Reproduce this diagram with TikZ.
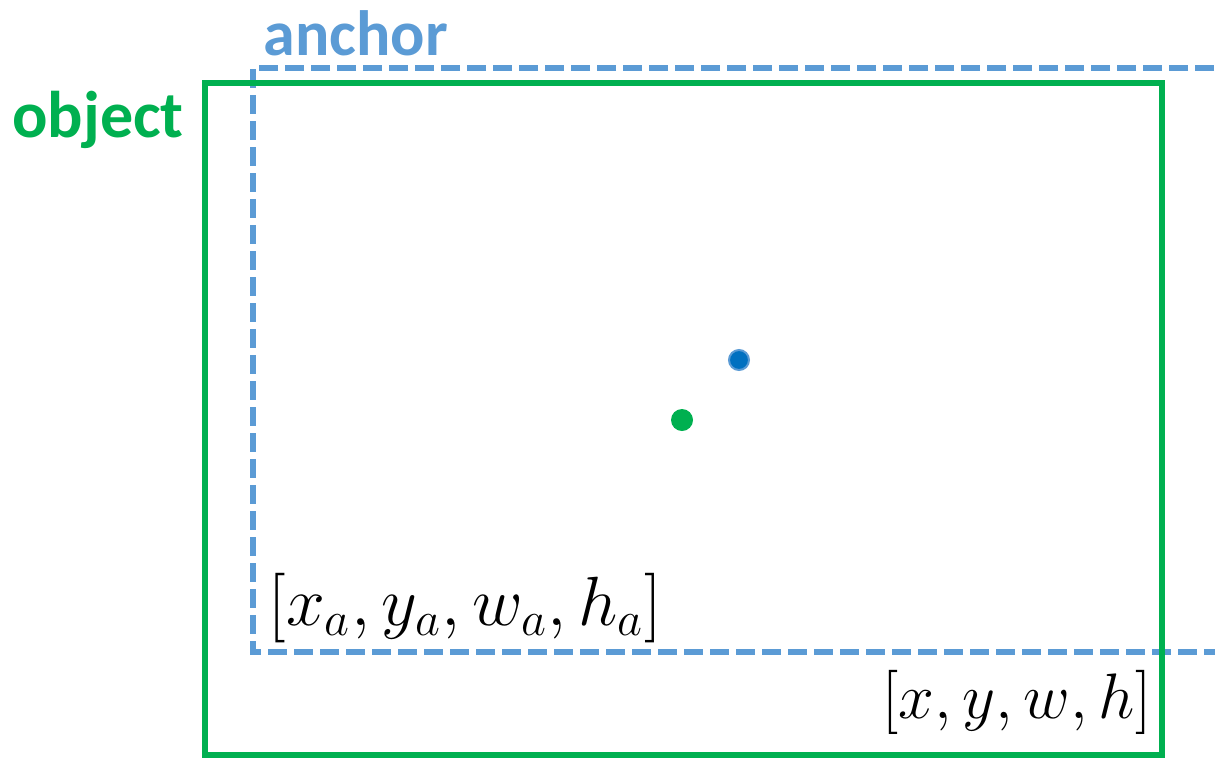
\documentclass[tikz,border=0pt]{standalone}
\usepackage{amsmath,amssymb}
\usepackage{fontspec}
\setmainfont{Carlito}
\usepackage{tikz}
\definecolor{ObjectGreen}{HTML}{00B050}
\definecolor{AnchorBlue}{HTML}{5B9BD5}
\definecolor{AnchorDot}{HTML}{0070C0}

\begin{document}
\begin{tikzpicture}[x=0.5pt,y=-0.5pt]
      \useasboundingbox (0,0) rectangle (1215,757);
      \clip (0,0) rectangle (1215,757);
      \draw[AnchorBlue,line width=2.7pt,dash pattern=on 9.5pt off 3.5pt] (1240,68) -- (253,68) -- (253,652) -- (1240,652);
      \draw[ObjectGreen,line width=2.8pt] (205,83) rectangle (1162,755);
      \node[text=AnchorBlue,font=\fontsize{32}{38}\selectfont\bfseries] (anchorlbl) at (356,33) {anchor};
      \node[text=ObjectGreen,font=\fontsize{33}{40}\selectfont\bfseries] (objectlbl) at (98,120) {object};
      \node[circle,fill=AnchorDot,draw=AnchorBlue,line width=1pt,inner sep=0pt,minimum size=10pt] (anchorctr) at (739,360) {};
      \node[circle,fill=ObjectGreen,inner sep=0pt,minimum size=11pt] (objectctr) at (682,420) {};
      \node[font=\huge,scale=1.68] (anchorbox) at (465,608) {$[x_a,y_a,w_a,h_a]$};
      \node[font=\huge,scale=1.55] (objectbox) at (1017,702) {$[x,y,w,h]$};
    \end{tikzpicture}
\end{document}
